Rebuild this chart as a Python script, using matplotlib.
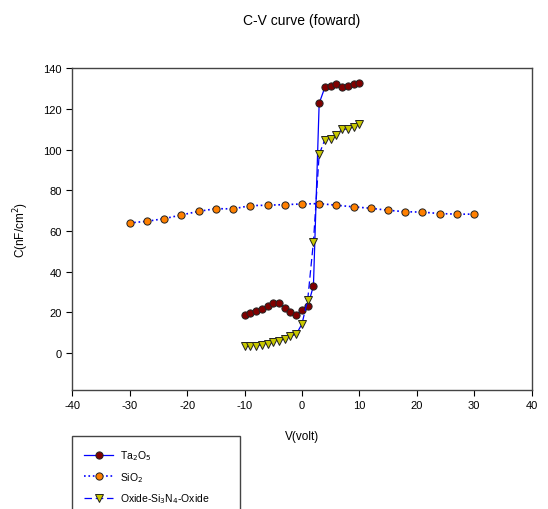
import matplotlib
matplotlib.use('Agg')
import matplotlib.pyplot as plt
from matplotlib.patches import Rectangle

plt.rcParams['font.family'] = ['Liberation Sans', 'DejaVu Sans']
plt.rcParams['axes.unicode_minus'] = False

# data
v_ta = [-10, -9, -8, -7, -6, -5, -4, -3, -2, -1, 0, 1, 2, 3, 4, 5, 6, 7, 8, 9, 10]
c_ta = [18.5, 19.7, 20.7, 21.8, 23.3, 24.4, 24.8, 22.3, 20.0, 18.9, 21.3, 23.0, 33.0,
        122.8, 130.7, 131.5, 132.2, 131.0, 131.3, 132.2, 132.7]

v_sio2 = [-30, -27, -24, -21, -18, -15, -12, -9, -6, -3, 0, 3, 6, 9, 12, 15, 18, 21, 24, 27, 30]
c_sio2 = [64.0, 64.8, 66.1, 67.9, 69.7, 71.0, 70.9, 72.5, 72.7, 73.0, 73.3, 73.5, 72.7,
          71.9, 71.2, 70.2, 69.5, 69.3, 68.6, 68.3, 68.3]

v_ono = [-10, -9, -8, -7, -6, -5, -4, -3, -2, -1, 0, 1, 2, 3, 4, 5, 6, 7, 8, 9, 10]
c_ono = [3.4, 3.3, 3.6, 4.1, 4.4, 5.2, 5.9, 7.0, 8.4, 9.2, 14.3, 26.2, 54.7, 97.7,
         105.0, 105.2, 107.2, 110.1, 110.1, 111.3, 112.4]

xticks = [-40, -30, -20, -10, 0, 10, 20, 30, 40]
yticks = [0, 20, 40, 60, 80, 100, 120, 140]

fig = plt.figure(figsize=(5.48, 5.10), dpi=100)
ax = fig.add_axes([0.132, 0.234, 0.838, 0.630])

ax.plot(v_ta, c_ta, '-', color='#0000FF', lw=0.9, marker='o', ms=5.2,
        mfc='#800000', mec='#222222', mew=0.7, label='Ta$_2$O$_5$', zorder=3)
ax.plot(v_sio2, c_sio2, ':', color='#0000FF', lw=1.2, marker='o', ms=5.2,
        mfc='#FF8000', mec='#222222', mew=0.7, label='SiO$_2$', zorder=3)
ax.plot(v_ono, c_ono, '--', color='#0000FF', lw=0.9, dashes=(6, 3), marker='v', ms=5.8,
        mfc='#C8C800', mec='#222222', mew=0.7, label='Oxide-Si$_3$N$_4$-Oxide', zorder=3)

ax.set_xlim(-40, 40)
ax.set_ylim(-18, 140)
ax.set_xticks(xticks)
ax.set_yticks(yticks)
ax.tick_params(direction='out', length=4, width=0.8, labelsize=8, colors='black')
for s in ax.spines.values():
    s.set_linewidth(1.0)
    s.set_color('#444444')

ax.set_xlabel('V(volt)', fontsize=8.5, labelpad=14)
ax.set_ylabel('C(nF/cm$^2$)', fontsize=8.5, labelpad=9)
fig.text(0.551, 0.958, 'C-V curve (foward)', ha='center', va='center', fontsize=10)

# legend box, cut off at the bottom like the original
fig.patches.append(Rectangle((72.3 / 548, -0.05), (240.3 - 72.3) / 548, 0.05 + (510 - 436.7) / 510,
                             transform=fig.transFigure, fill=False, ec='#444444', lw=1.0))
fig.legend(loc='upper left', bbox_to_anchor=(80 / 548, 1 - 445 / 510), frameon=False,
           fontsize=7.5, handlelength=2.8, labelspacing=0.75, borderaxespad=0, handletextpad=0.6)

fig.savefig('out.png', dpi=100)
